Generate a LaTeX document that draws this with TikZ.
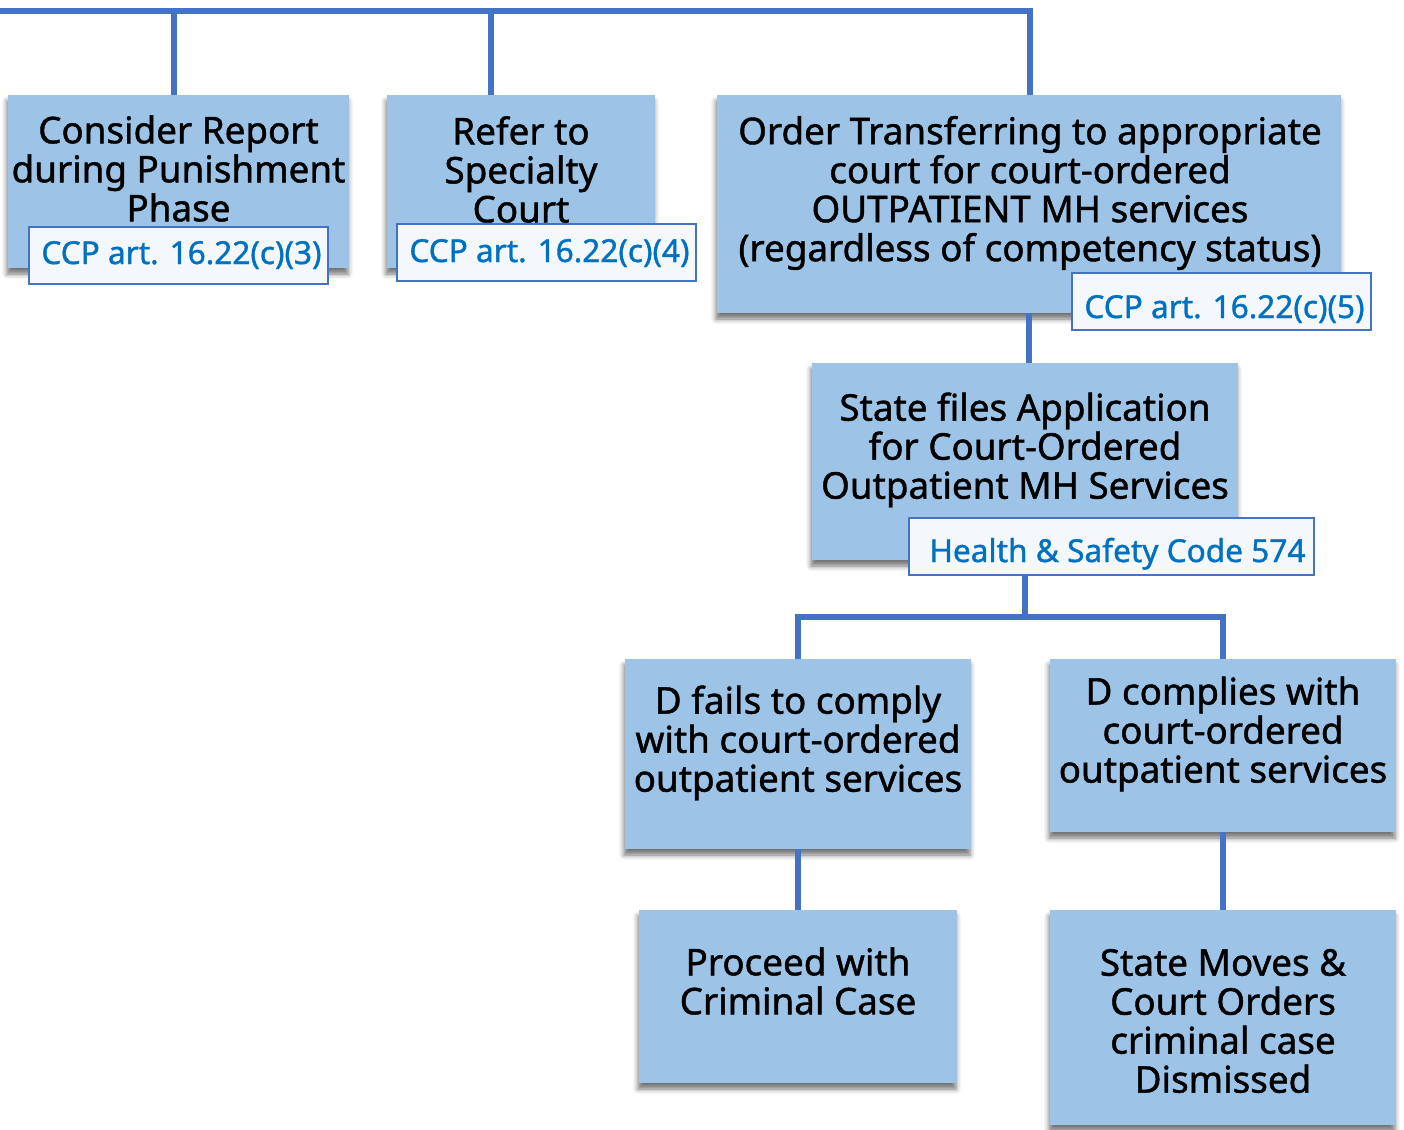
\documentclass[tikz,border=0pt]{standalone}
\usepackage{fontspec}
\setmainfont[FakeBold=1.2]{Noto Sans}
\newfontfamily\boxfont[FakeBold=1.2]{Noto Sans}
\usetikzlibrary{shadows.blur}
\definecolor{boxfill}{HTML}{9DC3E6}
\definecolor{linec}{HTML}{4472C4}
\definecolor{reftext}{HTML}{0070C0}
\definecolor{reffill}{HTML}{F4F8FC}
\tikzset{
  box/.style={draw=none, fill=boxfill, inner sep=0pt,
    blur shadow={shadow xshift=-1pt, shadow yshift=-6pt, shadow blur radius=5pt, shadow opacity=55}},
  txt/.style={align=center, font=\boxfont\fontsize{36.8}{39}\selectfont, inner sep=0pt, text=black},
  refbox/.style={draw=linec, line width=1.2pt, fill=reffill, text=reftext, inner sep=0pt,
    font=\boxfont\fontsize{31.6}{34}\selectfont}
}
\tikzset{conn/.style={draw=linec, line width=5.5pt}}
\begin{document}
\begin{tikzpicture}[x=1pt,y=-1pt]
\useasboundingbox (0,0) rectangle (1404,1129);
% boxes
\node[box, minimum width=341pt, minimum height=173pt] (b1) at (178.5,181.5) {};
\node[box, minimum width=268pt, minimum height=173pt] (b2) at (521,181.5) {};
\node[box, minimum width=624pt, minimum height=218pt] (b3) at (1029,204) {};
\node[box, minimum width=426pt, minimum height=197pt] (b4) at (1025,461.5) {};
\node[box, minimum width=346pt, minimum height=190pt] (b5) at (798,754) {};
\node[box, minimum width=346pt, minimum height=173pt] (b6) at (1223,745.5) {};
\node[box, minimum width=318pt, minimum height=173pt] (b7) at (798,996.5) {};
\node[box, minimum width=346pt, minimum height=215pt] (b8) at (1223,1017.5) {};
% texts
\node[txt] (t1) at (178.5,168.5) {Consider Report\\during Punishment\\Phase};
\node[txt] (t2) at (521,169.5) {Refer to\\Specialty\\Court};
\node[txt] (t3) at (1030,193) {Order Transferring to appropriate\\court for court-ordered\\OUTPATIENT MH services\\(regardless of competency status)};
\node[txt] (t4) at (1025,450) {State files Application\\for Court-Ordered\\Outpatient MH Services};
\node[txt] (t5) at (798,743) {D fails to comply\\with court-ordered\\outpatient services};
\node[txt] (t6) at (1223,734) {D complies with\\court-ordered\\outpatient services};
\node[txt] (t7) at (798,981) {Proceed with\\Criminal Case};
\node[txt] (t8) at (1223,1021) {State Moves \&\\Court Orders\\criminal case\\Dismissed};
% connectors
\coordinate (tl) at (0,11);
\coordinate (j1) at (174,11);
\coordinate (j2) at (491,11);
\coordinate (j3) at (1030,11);
\coordinate (s) at (1025,617);
\draw[conn] (tl) -- (j3) -- (j3 |- b3.north);
\draw[conn] (j1) -- (j1 |- b1.north);
\draw[conn] (j2) -- (j2 |- b2.north);
\draw[conn] (b3.south) -- (b3.south |- b4.north);
\draw[conn] (b4.south) -- (s);
\draw[conn] (b5.north) |- (s) -| (b6.north);
\draw[conn] (b5.south) -- (b7.north);
\draw[conn] (b6.south) -- (b8.north);
% reference labels
\node[refbox, minimum width=299pt, text height=37pt, text depth=20pt] (r1) at (178.5,255.5) {\hspace*{6pt}CCP art. 16.22(c)(3)};
\node[refbox, minimum width=299pt, text height=38pt, text depth=19pt] (r2) at (546.5,252.5) {\hspace*{6pt}CCP art. 16.22(c)(4)};
\node[refbox, minimum width=299pt, text height=45pt, text depth=12pt] (r3) at (1221.5,301.5) {\hspace*{6pt}CCP art. 16.22(c)(5)};
\node[refbox, minimum width=405pt, text height=44pt, text depth=13pt] (r4) at (1111.5,546.5) {\hspace*{12pt}Health \& Safety Code 574};
\end{tikzpicture}
\end{document}
